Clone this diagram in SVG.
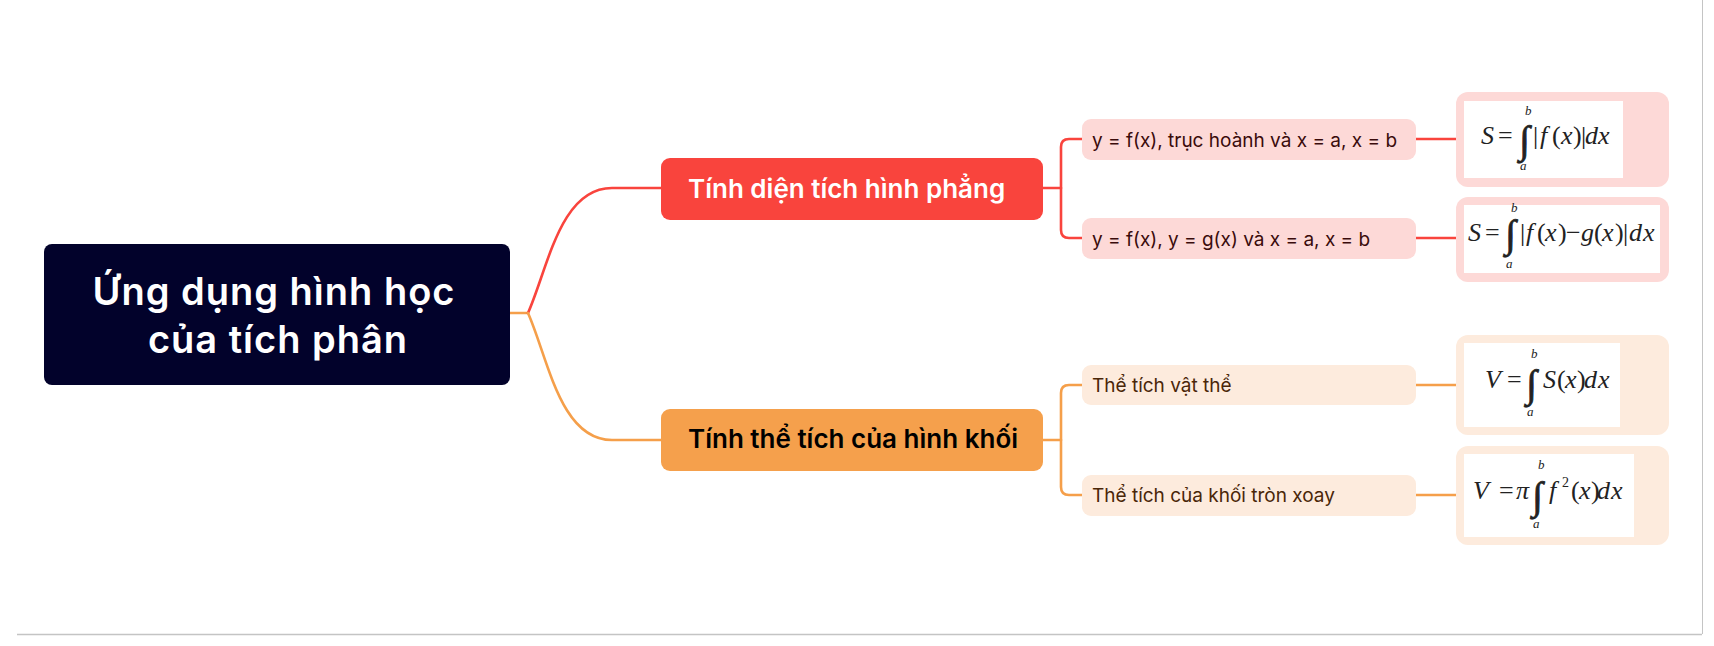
<svg xmlns="http://www.w3.org/2000/svg" width="1714" height="646" viewBox="0 0 1714 646">
<style>
.conn{fill:none;stroke-width:2.6;stroke-linecap:round;stroke-linejoin:round}
.red{stroke:#F9443D}
.org{stroke:#F59F4A}
.ttl{font-family:Inter,"Open Sans",sans-serif;font-weight:600}
.sub{font-family:Inter,"Open Sans",sans-serif;font-size:19px}
.m{font-family:"Liberation Serif","DejaVu Serif",serif;font-size:26px;fill:#222}
.mi{font-style:italic}
.lim{font-family:"Liberation Serif","DejaVu Serif",serif;font-size:13px;font-style:italic;fill:#222}
.sup{font-family:"Liberation Serif","DejaVu Serif",serif;font-size:14px;fill:#222}
.int{font-family:"Liberation Serif","DejaVu Serif",serif;font-size:39px;fill:#222;stroke:#222;stroke-width:0.8}
</style>
<rect width="1714" height="646" fill="#fff"/>
<line x1="17" y1="634.5" x2="1702" y2="634.5" stroke="#c4c4c4" stroke-width="1.5"/>
<line x1="1702.5" y1="0" x2="1702.5" y2="634" stroke="#c4c4c4" stroke-width="1"/>

<g id="connectors">
<path class="conn org" d="M510,313 H528"/>
<path class="conn red" d="M528,313 C548,268 560,188 612,188 H661"/>
<path class="conn org" d="M528,313 C548,358 560,440 612,440 H661"/>
<path class="conn red" d="M1043,188 H1061"/>
<path class="conn red" d="M1082,139 H1069 Q1061,139 1061,147 V230 Q1061,238 1069,238 H1082"/>
<path class="conn org" d="M1043,440 H1061"/>
<path class="conn org" d="M1082,385 H1069 Q1061,385 1061,393 V487 Q1061,495 1069,495 H1082"/>
<path class="conn red" d="M1416,139 H1456"/>
<path class="conn red" d="M1416,238 H1456"/>
<path class="conn org" d="M1416,385 H1456"/>
<path class="conn org" d="M1416,495 H1456"/>
</g>

<g id="root">
<rect x="44" y="244" width="466" height="141" rx="8" fill="#02022B"/>
<text class="ttl" x="274" y="305" font-size="38" letter-spacing="1" fill="#fff" text-anchor="middle">Ứng dụng hình học</text>
<text class="ttl" x="278" y="353" font-size="38" letter-spacing="1" fill="#fff" text-anchor="middle">của tích phân</text>
</g>

<g id="area">
<rect x="661" y="158" width="382" height="62" rx="9" fill="#F9443D"/>
<text class="ttl" x="688" y="198" font-size="26" fill="#fff">Tính diện tích hình phẳng</text>
</g>

<g id="volume">
<rect x="661" y="409" width="382" height="62" rx="9" fill="#F5A04C"/>
<text class="ttl" x="688" y="448" font-size="26" fill="#000">Tính thể tích của hình khối</text>
</g>

<g id="area1">
<rect x="1082" y="119" width="334" height="41" rx="9" fill="#FDD9D7"/>
<text class="sub" x="1092" y="147" fill="#3A0B0B">y = f(x), trục hoành và x = a, x = b</text>
</g>
<g id="area2">
<rect x="1082" y="218" width="334" height="41" rx="9" fill="#FDD9D7"/>
<text class="sub" x="1092" y="246" fill="#3A0B0B">y = f(x), y = g(x) và x = a, x = b</text>
</g>
<g id="vol1">
<rect x="1082" y="365" width="334" height="40" rx="9" fill="#FDEBDD"/>
<text class="sub" x="1092" y="392" fill="#4A2608">Thể tích vật thể</text>
</g>
<g id="vol2">
<rect x="1082" y="475" width="334" height="41" rx="9" fill="#FDEBDD"/>
<text class="sub" x="1092" y="502" fill="#4A2608">Thể tích của khối tròn xoay</text>
</g>

<g id="f1">
<rect x="1456" y="92" width="213" height="95" rx="12" fill="#FDD9D7"/>
<rect x="1464" y="101" width="159" height="77" fill="#fff"/>
<text class="m" y="144"><tspan class="mi" x="1481">S</tspan><tspan x="1498">=</tspan><tspan x="1533">|</tspan><tspan class="mi" x="1540">f</tspan><tspan x="1552">(</tspan><tspan class="mi" x="1561">x</tspan><tspan x="1573">)</tspan><tspan x="1581">|</tspan><tspan class="mi" x="1585">d</tspan><tspan class="mi" x="1598">x</tspan></text>
<text class="int" x="1519" y="153">∫</text>
<text class="lim" x="1525" y="115">b</text>
<text class="lim" x="1520" y="170">a</text>
</g>
<g id="f2">
<rect x="1456" y="197" width="213" height="85" rx="12" fill="#FDD9D7"/>
<rect x="1464" y="205" width="196" height="68" fill="#fff"/>
<text class="m" y="241"><tspan class="mi" x="1468">S</tspan><tspan x="1485">=</tspan><tspan x="1520">|</tspan><tspan class="mi" x="1526">f</tspan><tspan x="1537">(</tspan><tspan class="mi" x="1545">x</tspan><tspan x="1558">)</tspan><tspan x="1566">−</tspan><tspan class="mi" x="1581">g</tspan><tspan x="1594">(</tspan><tspan class="mi" x="1602">x</tspan><tspan x="1615">)</tspan><tspan x="1623">|</tspan><tspan class="mi" x="1629">d</tspan><tspan class="mi" x="1643">x</tspan></text>
<text class="int" x="1505" y="247">∫</text>
<text class="lim" x="1511" y="212">b</text>
<text class="lim" x="1506" y="268">a</text>
</g>
<g id="f3">
<rect x="1456" y="335" width="213" height="100" rx="12" fill="#FDEBDD"/>
<rect x="1464" y="343" width="156" height="84" fill="#fff"/>
<text class="m" y="388"><tspan class="mi" x="1485">V</tspan><tspan x="1507">=</tspan><tspan class="mi" x="1543">S</tspan><tspan x="1557">(</tspan><tspan class="mi" x="1565">x</tspan><tspan x="1577">)</tspan><tspan class="mi" x="1584">d</tspan><tspan class="mi" x="1598">x</tspan></text>
<text class="int" x="1526" y="397">∫</text>
<text class="lim" x="1531" y="358">b</text>
<text class="lim" x="1527" y="416">a</text>
</g>
<g id="f4">
<rect x="1456" y="446" width="213" height="99" rx="12" fill="#FDEBDD"/>
<rect x="1464" y="454" width="170" height="83" fill="#fff"/>
<text class="m" y="499"><tspan class="mi" x="1473">V</tspan><tspan x="1499">=</tspan><tspan class="mi" x="1516">π</tspan><tspan class="mi" x="1549">f</tspan><tspan x="1571">(</tspan><tspan class="mi" x="1579">x</tspan><tspan x="1591">)</tspan><tspan class="mi" x="1597">d</tspan><tspan class="mi" x="1611">x</tspan></text>
<text class="int" x="1532" y="509">∫</text>
<text class="lim" x="1538" y="469">b</text>
<text class="lim" x="1533" y="528">a</text>
<text class="sup" x="1562" y="487">2</text>
</g>
</svg>
